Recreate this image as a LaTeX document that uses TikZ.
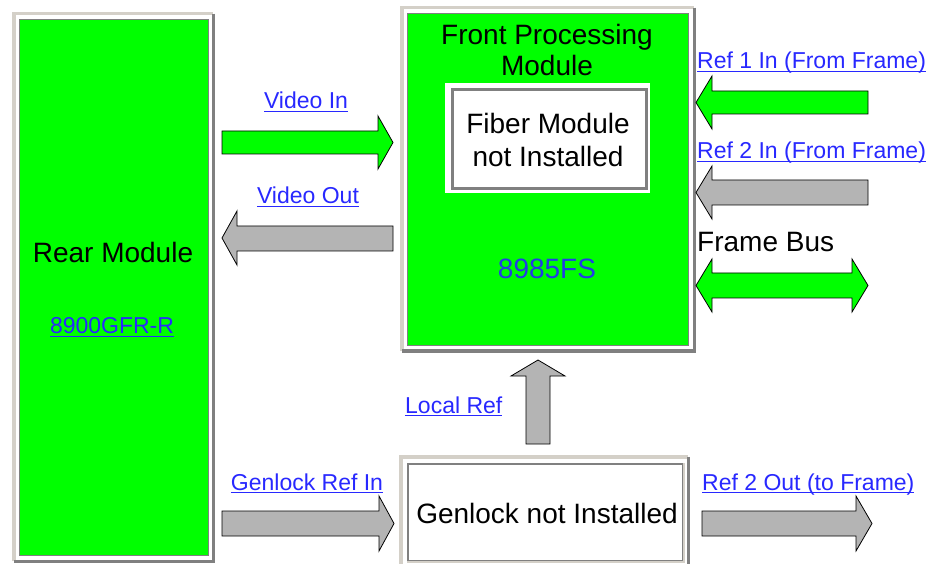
\documentclass[tikz,border=0pt]{standalone}
\usepackage{fontspec}
\setmainfont{Liberation Sans}
\definecolor{modgreen}{RGB}{0,255,0}
\definecolor{argray}{RGB}{180,180,180}
\definecolor{frlight}{RGB}{212,208,200}
\definecolor{frdark}{RGB}{128,128,128}
\definecolor{linkblue}{RGB}{40,40,255}
\definecolor{partblue}{RGB}{34,60,230}
\newcommand{\lnkul}[1]{\setbox0=\hbox{#1}\rlap{\rule[-3.2pt]{\wd0}{1.3pt}}\box0}
\tikzset{
  bigtext/.style={font=\fontsize{28}{32}\selectfont, text=black, inner sep=0pt},
  linktext/.style={font=\fontsize{23}{26}\selectfont, text=linkblue, inner sep=0pt},
  greenbox/.style={draw=frdark, line width=1pt, fill=modgreen, inner sep=0pt, anchor=north west},
  whitebox/.style={draw=frdark, line width=3pt, fill=white, inner sep=0pt, anchor=north west},
  garrow/.style={draw=black, line width=0.8pt, fill=modgreen, line join=miter},
  grarrow/.style={draw=black, line width=0.8pt, fill=argray, line join=miter},
  frlightline/.style={draw=frlight, line width=3.5pt},
  frdarkline/.style={draw=frdark, line width=3.5pt}
}
\begin{document}
\begin{tikzpicture}[x=1pt,y=-1pt]
\useasboundingbox (0,0) rectangle (938,564);
\fill[white] (0,0) rectangle (938,564);

% ---------- Rear module frame ----------
\fill[white] (12,12) rectangle (215,563);
\draw[frlightline] (13.75,561.25) -- (13.75,13.75) -- (213.25,13.75);
\draw[frdarkline] (213.25,13.75) -- (213.25,561.25) -- (13.75,561.25);
\node[greenbox, minimum width=189pt, minimum height=536pt] (rear) at (19,19) {};
\node[bigtext, anchor=base] (reartxt) at (113,263) {Rear Module};
\node[linktext, anchor=base] (rearpart) at (112,334) {\lnkul{8900GFR-R}};

% ---------- Front processing module frame ----------
\fill[white] (400,6) rectangle (696,353);
\draw[frlightline] (401.75,351.25) -- (401.75,7.75) -- (694.25,7.75);
\draw[frdarkline] (694.25,7.75) -- (694.25,351.25) -- (401.75,351.25);
\node[greenbox, minimum width=281pt, minimum height=332pt] (front) at (407,13) {};
\node[bigtext, align=center] (fronttxt) at (547,50) {Front Processing\\[-1pt]Module};

% fiber module
\fill[white] (445,83) rectangle (650,193);
\node[whitebox, minimum width=194pt, minimum height=99pt] (fiber) at (450.5,88.5) {};
\node[bigtext, align=center] (fibertxt) at (548,140) {Fiber Module\\[1pt]not Installed};
\node[font=\fontsize{28}{32}\selectfont, text=partblue, inner sep=0pt, anchor=base] (frontpart) at (547,279) {8985FS};

% ---------- Genlock frame ----------
\fill[white] (399,455) rectangle (690,570);
\draw[frlightline] (400.75,570) -- (400.75,456.75) -- (688.25,456.75);
\draw[frdarkline] (688.25,456.75) -- (688.25,570);
\node[draw=frdark, line width=2pt, fill=white, inner sep=0pt, anchor=north west,
      minimum width=275pt, minimum height=97pt] (genlock) at (407,463) {};
\draw[frlight, line width=2pt] (genlock.north east) -- (genlock.south east) -- (genlock.south west);
\node[bigtext, anchor=base] (genlocktxt) at (547,523) {Genlock not Installed};

% ---------- Arrows ----------
% Video In
\draw[garrow] (222,131) -- (378,131) -- (378,116) -- (393,142.5) -- (378,169) -- (378,154) -- (222,154) -- cycle;
\node[linktext, anchor=base] (vin) at (306,109) {\lnkul{Video In}};
% Video Out
\draw[grarrow] (393,226) -- (237,226) -- (237,211) -- (222,238) -- (237,265) -- (237,251) -- (393,251) -- cycle;
\node[linktext, anchor=base] (vout) at (308,204) {\lnkul{Video Out}};
% Ref 1 In
\draw[garrow] (868,91) -- (712,91) -- (712,76) -- (696,102.5) -- (712,129) -- (712,114) -- (868,114) -- cycle;
\node[linktext, anchor=base west] (r1) at (697,69) {\lnkul{Ref 1 In (From Frame)}};
% Ref 2 In
\draw[grarrow] (868,180) -- (712,180) -- (712,166) -- (696,192.5) -- (712,219) -- (712,205) -- (868,205) -- cycle;
\node[linktext, anchor=base west] (r2) at (697,159) {\lnkul{Ref 2 In (From Frame)}};
% Frame Bus
\node[bigtext, anchor=base west] (fbus) at (697,252) {Frame Bus};
\draw[garrow] (712,273) -- (852,273) -- (852,259) -- (868,285.5) -- (852,312) -- (852,298) -- (712,298) -- (712,312) -- (696,285.5) -- (712,259) -- cycle;
% Local Ref
\draw[grarrow] (526,444) -- (526,376) -- (511,376) -- (538,360) -- (565,376) -- (550,376) -- (550,444) -- cycle;
\node[linktext, anchor=base west] (lref) at (405,413) {\lnkul{Local Ref}};
% Genlock Ref In
\draw[grarrow] (222,511) -- (379,511) -- (379,496) -- (394,523.5) -- (379,551) -- (379,536) -- (222,536) -- cycle;
\node[linktext, anchor=base] (gref) at (307,490) {\lnkul{Genlock Ref In}};
% Ref 2 Out
\draw[grarrow] (702,511) -- (856,511) -- (856,496) -- (872,523.5) -- (856,551) -- (856,536) -- (702,536) -- cycle;
\node[linktext, anchor=base west] (r2out) at (702,490) {\lnkul{Ref 2 Out (to Frame)}};
\end{tikzpicture}
\end{document}
